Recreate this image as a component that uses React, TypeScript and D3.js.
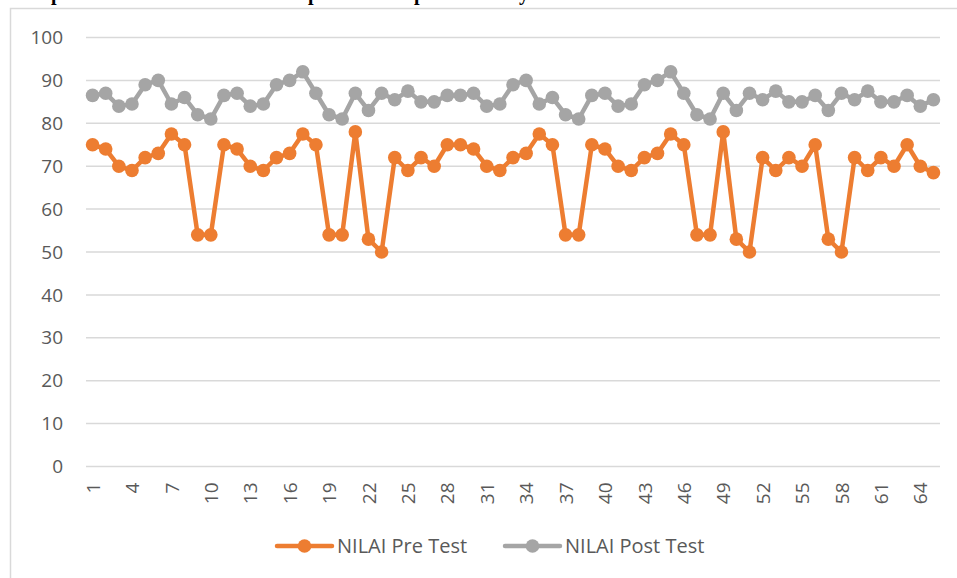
import { useEffect, useRef } from "react";
import * as d3 from "d3";

const categories = d3.range(1, 66);

const preTest = [
  75, 74, 70, 69, 72, 73, 77.5, 75, 54, 54,
  75, 74, 70, 69, 72, 73, 77.5, 75, 54, 54,
  78, 53, 50, 72, 69, 72, 70, 75, 75, 74,
  70, 69, 72, 73, 77.5, 75, 54, 54, 75, 74,
  70, 69, 72, 73, 77.5, 75, 54, 54, 78, 53,
  50, 72, 69, 72, 70, 75, 53, 50, 72, 69,
  72, 70, 75, 70, 68.5,
];

const postTest = [
  86.5, 87, 84, 84.5, 89, 90, 84.5, 86, 82, 81,
  86.5, 87, 84, 84.5, 89, 90, 92, 87, 82, 81,
  87, 83, 87, 85.5, 87.5, 85, 85, 86.5, 86.5, 87,
  84, 84.5, 89, 90, 84.5, 86, 82, 81, 86.5, 87,
  84, 84.5, 89, 90, 92, 87, 82, 81, 87, 83,
  87, 85.5, 87.5, 85, 85, 86.5, 83, 87, 85.5, 87.5,
  85, 85, 86.5, 84, 85.5,
];

const yTicks = [0, 10, 20, 30, 40, 50, 60, 70, 80, 90, 100];
const seriesNames = ["NILAI Pre Test", "NILAI Post Test"];
const seriesColors = ["#ED7D31", "#A5A5A5"];

export default function App() {
  const ref = useRef<SVGSVGElement>(null);

  useEffect(() => {
    const svg = d3.select(ref.current!);
    svg.selectAll("*").remove();

    const font = "'Open Sans', Calibri, sans-serif";
    const left = 86,
      right = 940,
      top = 37.5,
      bottom = 466.5;

    // scraps of the document line above the chart (only descenders show)
    svg
      .append("g")
      .attr("font-family", "'Liberation Serif', serif")
      .attr("font-size", 20)
      .attr("font-weight", "bold")
      .selectAll("text")
      .data([
        ["p", 51],
        ["p", 308],
        ["p", 414],
        ["y", 519],
      ])
      .join("text")
      .attr("x", (d) => d[1] as number)
      .attr("y", -0.5)
      .text((d) => d[0] as string);

    // chart frame
    svg
      .append("path")
      .attr("d", "M10.5,600V8.5H1000")
      .attr("fill", "none")
      .attr("stroke", "#D9D9D9")
      .attr("stroke-width", 1.5);

    const x = d3
      .scalePoint<number>()
      .domain(categories)
      .range([left, right])
      .padding(0.5);

    const y = d3.scaleLinear().domain([0, 100]).range([bottom, top]);

    // gridlines
    svg
      .append("g")
      .selectAll("line")
      .data(yTicks)
      .join("line")
      .attr("x1", left)
      .attr("x2", right)
      .attr("y1", (d) => y(d))
      .attr("y2", (d) => y(d))
      .attr("stroke", "#D9D9D9")
      .attr("stroke-width", 1.5);

    // y labels
    svg
      .append("g")
      .attr("font-family", font)
      .attr("font-size", 19)
      .attr("fill", "#595959")
      .attr("text-anchor", "end")
      .selectAll("text")
      .data(yTicks)
      .join("text")
      .attr("x", 63)
      .attr("y", (d) => y(d))
      .attr("dy", "0.35em")
      .text((d) => d);

    // x labels, every 3rd category, rotated
    svg
      .append("g")
      .attr("font-family", font)
      .attr("font-size", 19)
      .attr("fill", "#595959")
      .attr("text-anchor", "end")
      .selectAll("text")
      .data(categories.filter((d) => (d - 1) % 3 === 0))
      .join("text")
      .attr(
        "transform",
        (d) => `translate(${x(d)! + 0.5},${bottom + 16}) rotate(-90)`
      )
      .attr("dy", "0.35em")
      .text((d) => d);

    const line = d3
      .line<number>()
      .x((_, i) => x(categories[i])!)
      .y((d) => y(d));

    [preTest, postTest].forEach((values, s) => {
      const g = svg.append("g");
      g.append("path")
        .attr("d", line(values))
        .attr("fill", "none")
        .attr("stroke", seriesColors[s])
        .attr("stroke-width", 4.5)
        .attr("stroke-linejoin", "round");
      g.selectAll("circle")
        .data(values)
        .join("circle")
        .attr("cx", (_, i) => x(categories[i])!)
        .attr("cy", (d) => y(d))
        .attr("r", 6.8)
        .attr("fill", seriesColors[s]);
    });

    // legend
    const legendY = 546;
    const legendX = [277, 505];
    seriesNames.forEach((name, s) => {
      const g = svg
        .append("g")
        .attr("transform", `translate(${legendX[s]},${legendY})`);
      g.append("line")
        .attr("x1", 0)
        .attr("x2", 55)
        .attr("stroke", seriesColors[s])
        .attr("stroke-width", 4.5)
        .attr("stroke-linecap", "round");
      g.append("circle")
        .attr("cx", 27.5)
        .attr("r", 6.8)
        .attr("fill", seriesColors[s]);
      g.append("text")
        .attr("x", 60)
        .attr("dy", "0.35em")
        .attr("font-family", font)
        .attr("font-size", 20)
        .attr("fill", "#595959")
        .text(name);
    });
  }, []);

  return (
    <svg
      ref={ref}
      width={957}
      height={578}
      style={{ position: "absolute", left: 0, top: 0, background: "#fff" }}
    />
  );
}
